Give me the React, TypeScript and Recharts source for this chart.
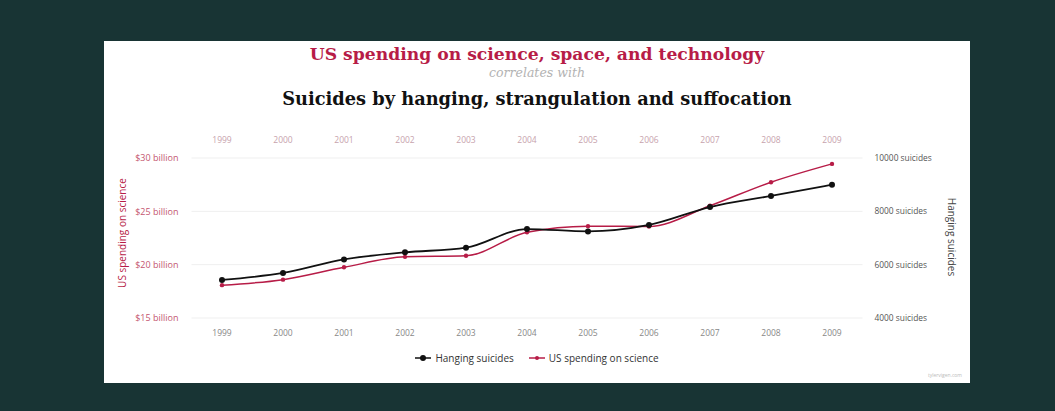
import { LineChart, Line, XAxis, YAxis, CartesianGrid } from 'recharts'

// ---------------------------------------------------------------------------
// Data
// ---------------------------------------------------------------------------

const years = [1999, 2000, 2001, 2002, 2003, 2004, 2005, 2006, 2007, 2008, 2009]
// US spending on science, space and technology (millions of dollars)
const spending = [18079, 18594, 19753, 20734, 20831, 23029, 23597, 23584, 25525, 27731, 29449]
// Suicides by hanging, strangulation and suffocation
const hangings = [5427, 5688, 6198, 6462, 6635, 7336, 7248, 7491, 8161, 8578, 9000]

const spendingTicks = [15000, 20000, 25000, 30000]
const suicideTicks = [4000, 6000, 8000, 10000]

const data = years.map((year, i) => ({
  year,
  spending: spending[i],
  hangings: hangings[i],
}))

// ---------------------------------------------------------------------------
// Colors
// ---------------------------------------------------------------------------

const RED = '#b71c47'
const BLACK = '#111'
const BG = '#183434'
const SANS = '"Open Sans", "DejaVu Sans", sans-serif'
const SERIF = '"DejaVu Serif", serif'

function LegendItem({ color, r, label }: { color: string; r: number; label: string }) {
  return (
    <div style={{ display: 'flex', alignItems: 'center', gap: 4 }}>
      <svg width={16} height={8}>
        <line x1={0} y1={4} x2={16} y2={4} stroke={color} strokeWidth={1.5} />
        <circle cx={8} cy={4} r={r} fill={color} />
      </svg>
      <span>{label}</span>
    </div>
  )
}

export default function App() {
  return (
    <div style={{ position: 'absolute', left: 0, top: 0, width: 1055, height: 411, background: BG }}>
      <div style={{ position: 'absolute', left: 104, top: 41, width: 866, height: 342, background: '#fff' }}>
        {/* Titles */}
        <div style={{ position: 'absolute', left: 0, top: 3, width: '100%', textAlign: 'center', fontFamily: SERIF, fontWeight: 'bold', fontSize: 17.2, lineHeight: '20px', color: RED }}>
          US spending on science, space, and technology
        </div>
        <div style={{ position: 'absolute', left: 0, top: 25, width: '100%', textAlign: 'center', fontFamily: SERIF, fontStyle: 'italic', fontSize: 12.5, lineHeight: '14px', color: '#b3b3b3' }}>
          correlates with
        </div>
        <div style={{ position: 'absolute', left: 0, top: 48, width: '100%', textAlign: 'center', fontFamily: SERIF, fontWeight: 'bold', fontSize: 17.8, lineHeight: '20px', color: BLACK }}>
          Suicides by hanging, strangulation and suffocation
        </div>

        <LineChart width={866} height={342} data={data} margin={{ top: 97, right: 2.5, bottom: 45, left: 2.5 }}>
          <CartesianGrid vertical={false} stroke="#efefef" yAxisId="right" />
          <XAxis
            xAxisId="top"
            orientation="top"
            dataKey="year"
            type="number"
            domain={[1998.5, 2009.5]}
            ticks={years}
            height={20}
            axisLine={false}
            tickLine={false}
            tickSize={0}
            tickMargin={15}
            tick={{ fontSize: 8.5, fill: '#c7a3ad', fontFamily: SANS }}
          />
          <XAxis
            xAxisId="bottom"
            dataKey="year"
            type="number"
            domain={[1998.5, 2009.5]}
            ticks={years}
            height={20}
            axisLine={false}
            tickLine={false}
            tickSize={0}
            tickMargin={12}
            tick={{ fontSize: 8.5, fill: '#888', fontFamily: SANS }}
          />
          <YAxis
            yAxisId="left"
            domain={[15000, 30000]}
            ticks={spendingTicks}
            width={85}
            axisLine={false}
            tickLine={false}
            tickSize={0}
            tickMargin={13}
            tickFormatter={(v: number) => `$${v / 1000} billion`}
            tick={{ fontSize: 9, fill: '#c4566f', fontFamily: SANS }}
          />
          <YAxis
            yAxisId="right"
            orientation="right"
            domain={[4000, 10000]}
            ticks={suicideTicks}
            width={105}
            axisLine={false}
            tickLine={false}
            tickSize={0}
            tickMargin={12}
            tickFormatter={(v: number) => `${v} suicides`}
            tick={{ fontSize: 8.4, fill: '#555', fontFamily: SANS }}
          />
          <Line
            xAxisId="bottom"
            yAxisId="left"
            type="monotone"
            dataKey="spending"
            stroke={RED}
            strokeWidth={1.5}
            dot={{ r: 2.2, fill: RED, stroke: RED, strokeWidth: 0 }}
            isAnimationActive={false}
          />
          <Line
            xAxisId="bottom"
            yAxisId="right"
            type="monotone"
            dataKey="hangings"
            stroke={BLACK}
            strokeWidth={1.8}
            dot={{ r: 3, fill: BLACK, stroke: BLACK, strokeWidth: 0 }}
            isAnimationActive={false}
          />
        </LineChart>

        {/* Axis titles */}
        <div style={{ position: 'absolute', left: 18, top: 192, width: 0, height: 0 }}>
          <div style={{ position: 'absolute', left: -70, top: -7, width: 140, textAlign: 'center', transform: 'rotate(-90deg)', fontFamily: SANS, fontSize: 10, lineHeight: '14px', color: RED, whiteSpace: 'nowrap' }}>
            US spending on science
          </div>
        </div>
        <div style={{ position: 'absolute', left: 848, top: 196, width: 0, height: 0 }}>
          <div style={{ position: 'absolute', left: -70, top: -7, width: 140, textAlign: 'center', transform: 'rotate(90deg)', fontFamily: SANS, fontSize: 10, lineHeight: '14px', color: '#444', whiteSpace: 'nowrap' }}>
            Hanging suicides
          </div>
        </div>

        {/* Legend */}
        <div style={{ position: 'absolute', left: 0, top: 310, width: '100%', display: 'flex', justifyContent: 'center', gap: 15, fontFamily: SANS, fontSize: 10, lineHeight: '14px', color: '#333', paddingRight: 6 }}>
          <LegendItem color={BLACK} r={3} label="Hanging suicides" />
          <LegendItem color={RED} r={2} label="US spending on science" />
        </div>

        <div style={{ position: 'absolute', right: 8, top: 331, fontFamily: SANS, fontSize: 5, color: '#bbb' }}>
          tylervigen.com
        </div>
      </div>
    </div>
  )
}
